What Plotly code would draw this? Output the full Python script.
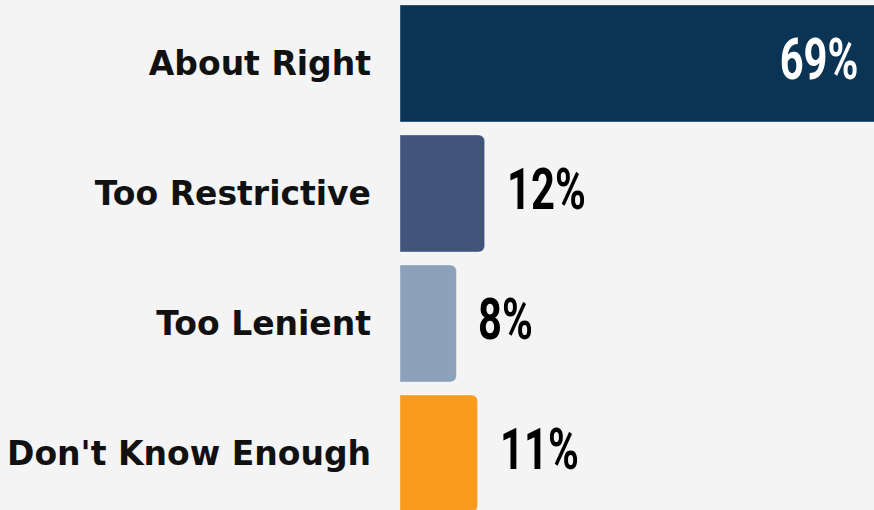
import plotly.graph_objects as go

categories = ["About Right", "Too Restrictive", "Too Lenient", "Don't Know Enough"]
values = [69, 12, 8, 11]
labels = ["69%", "12%", "8%", "11%"]
colors = ["#0b3454", "#41547c", "#8ca2ba", "#f99b1f"]

VAL_FONT = dict(family="Roboto", size=58, weight="bold")

fig = go.Figure()
fig.add_trace(go.Bar(
    y=categories, x=values, orientation="h",
    marker=dict(color=colors, line=dict(color="rgba(255,255,255,0.35)", width=1)),
    width=0.9, hoverinfo="skip",
))

for i, (c, v, t) in enumerate(zip(categories, values, labels)):
    if i == 0:
        fig.add_annotation(x=1, xref="paper", y=c, yref="y", text=t, showarrow=False,
                           xanchor="right", xshift=-14, yshift=4,
                           font=dict(VAL_FONT, color="white"))
    else:
        fig.add_annotation(x=v, y=c, text=t, showarrow=False, xanchor="left", xshift=20, yshift=4,
                           font=dict(VAL_FONT, color="black"))

fig.update_layout(
    width=874, height=510,
    margin=dict(l=400, r=0, t=0, b=0),
    paper_bgcolor="#f4f4f4", plot_bgcolor="#f4f4f4",
    barcornerradius=6,
    showlegend=False,
    xaxis=dict(range=[0, 67.2], visible=False, fixedrange=True),
    yaxis=dict(categoryorder="array", categoryarray=categories, range=[3.435, -0.488],
               showgrid=False, zeroline=False, showline=False, ticks="",
               ticklabelstandoff=28, fixedrange=True,
               tickfont=dict(family="DejaVu Sans", size=33, color="#111111", weight="bold")),
)

post = """
document.body.style.margin='0';
document.body.style.background='#f4f4f4';
var anns = document.querySelectorAll('.annotation-text');
anns.forEach(function(t, i){
  t.style.transformBox = 'fill-box';
  t.style.transformOrigin = (t.textContent.indexOf('69') === 0) ? 'right center' : 'left center';
  t.style.transform = 'scaleX(0.72)';
});
"""
fig.write_html("out.html", post_script=post, config={"displayModeBar": False})
